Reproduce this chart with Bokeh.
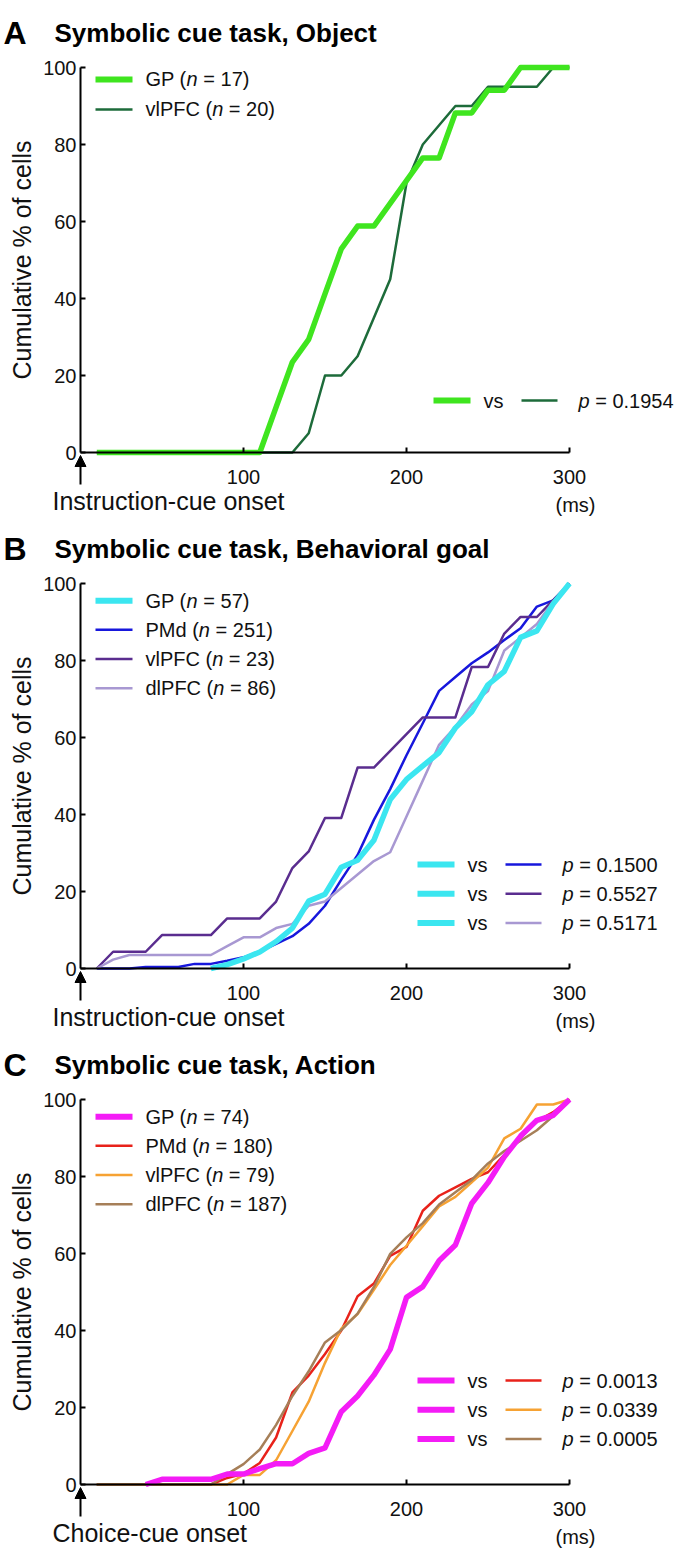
import numpy as np
from bokeh.plotting import figure
from bokeh.models import Range1d, FixedTicker, Label, Arrow, NormalHead
from bokeh.layouts import column
from bokeh.embed import file_html
from bokeh.resources import INLINE

# ---------------- data ----------------
time_ms = [10, 20, 30, 40, 50, 60, 70, 80, 90, 100, 110, 120, 130, 140, 150,
           160, 170, 180, 190, 200, 210, 220, 230, 240, 250, 260, 270, 280, 290, 300]
x_ticks = [100, 200, 300]
y_ticks = [0, 20, 40, 60, 80, 100]

# Panel A: Symbolic cue task, Object
A_gp = [0, 0, 0, 0, 0, 0, 0, 0, 0, 0, 0, 11.8, 23.5, 29.4, 41.2,
        52.9, 58.8, 58.8, 64.7, 70.6, 76.5, 76.5, 88.2, 88.2, 94.1, 94.1, 100, 100, 100, 100]
A_vlpfc = [0, 0, 0, 0, 0, 0, 0, 0, 0, 0, 0, 0, 0, 5, 20,
           20, 25, 35, 45, 70, 80, 85, 90, 90, 95, 95, 95, 95, 100, 100]

# Panel B: Symbolic cue task, Behavioral goal
B_gp = [None, None, None, None, None, None, None, 0, 1.0, 2.5, 4.3, 7.0, 10.5, 17.5, 19.3,
        26.3, 28.1, 33.3, 43.9, 49.1, 52.6, 56.1, 62.5, 66.7, 73.7, 77.2, 86.0, 87.7, 94.7, 100]
B_pmd = [0, 0, 0, 0.4, 0.4, 0.4, 1.2, 1.2, 2.0, 2.9, 4.4, 6.4, 8.4, 11.6, 16.3,
         23.1, 29.5, 38.6, 46.6, 55.4, 63.7, 72.1, 75.7, 79.3, 82.1, 85.3, 88.4, 94.0, 95.6, 100]
B_vlpfc = [0, 4.35, 4.35, 4.35, 8.7, 8.7, 8.7, 8.7, 13.0, 13.0, 13.0, 17.4, 26.1, 30.4, 39.1,
           39.1, 52.2, 52.2, 56.5, 60.9, 65.2, 65.2, 65.2, 78.3, 78.3, 87.0, 91.3, 91.3, 95.7, 100]
B_dlpfc = [0, 2.3, 3.5, 3.5, 3.5, 3.5, 3.5, 3.5, 5.8, 8.1, 8.1, 10.5, 11.6, 16.3, 17.4,
           20.9, 24.4, 27.9, 30.2, 39.5, 48.8, 58.1, 62.8, 68.6, 72.1, 82.6, 86.0, 89.5, 95.3, 100]

# Panel C: Symbolic cue task, Action
C_gp = [None, None, None, 0, 1.35, 1.35, 1.35, 1.35, 2.7, 2.7, 4.1, 5.4, 5.4, 8.1, 9.5,
        18.9, 23.0, 28.4, 35.1, 48.6, 51.4, 58.1, 62.2, 73.0, 78.4, 85.1, 90.5, 94.6, 95.9, 100]
C_pmd = [0, 0, 0, 0, 0, 0, 0, 0, 1.7, 2.8, 5.6, 12.2, 23.9, 28.3, 33.9,
         40.0, 48.9, 52.2, 59.4, 61.7, 71.1, 75.0, 77.2, 79.4, 81.1, 85.6, 90.0, 94.4, 96.7, 100]
C_vlpfc = [0, 0, 0, 0, 0, 0, 0, 0, 0, 2.5, 2.5, 6.3, 13.9, 21.5, 31.6,
           40.5, 44.3, 50.6, 57.0, 62.0, 67.1, 72.2, 74.7, 78.5, 82.3, 89.9, 92.4, 98.7, 98.7, 100]
C_dlpfc = [0, 0, 0, 0, 0, 0, 0, 0, 2.7, 5.3, 9.1, 15.5, 23.0, 29.4, 36.9,
           40.1, 44.4, 51.3, 59.9, 64.2, 67.9, 72.7, 75.9, 79.1, 83.4, 86.6, 89.3, 92.0, 95.7, 100]

A_names = ["GP", "vlPFC"]
A_counts = [17, 20]
A_pvals = ["0.1954"]
B_names = ["GP", "PMd", "vlPFC", "dlPFC"]
B_counts = [57, 251, 23, 86]
B_pvals = ["0.1500", "0.5527", "0.5171"]
C_names = ["GP", "PMd", "vlPFC", "dlPFC"]
C_counts = [74, 180, 79, 187]
C_pvals = ["0.0013", "0.0339", "0.0005"]

# ---------------- layout / style ----------------
FONT = "Liberation Sans"
W, H = 678, 516
LEFT, RIGHT, TOP, BOTTOM = 80, 109, 67, 64     # pixel position of the 0..300 ms / 0..100 % box
PXX = (W - LEFT - RIGHT) / 300.0               # px per ms
PXY = (H - TOP - BOTTOM) / 100.0               # px per %
TXT = "#111111"

AW = {' ': 278, '(': 333, ')': 333, '=': 584, '.': 278, 'G': 778, 'P': 667, 'M': 833,
      'F': 611, 'C': 722, 'd': 556, 'v': 500, 'l': 222, 'n': 556, 'p': 556, 's': 500}


def tw(s, size):
    return sum(AW.get(c, 556) for c in s) / 1000.0 * size


def make_panel(letter, title, xlabel, names, counts, values, colors, widths,
               leg_rows, pv_rows, pv_shift, pvals):
    p = figure(width=W, height=H, output_backend="svg", toolbar_location=None, tools="",
               x_range=Range1d(-LEFT / PXX, 300 + RIGHT / PXX),
               y_range=Range1d(-BOTTOM / PXY, 100 + TOP / PXY),
               min_border=0, min_border_left=0, min_border_right=0,
               min_border_top=0, min_border_bottom=0)
    p.outline_line_color = None
    p.grid.visible = False
    p.background_fill_color = "white"
    p.border_fill_color = "white"

    p.xaxis.ticker = FixedTicker(ticks=x_ticks)
    p.yaxis.ticker = FixedTicker(ticks=y_ticks)
    p.xaxis.bounds = (0, 300)
    p.yaxis.bounds = (0, 100)
    p.xaxis.fixed_location = 0
    p.yaxis.fixed_location = 0
    for ax in (p.xaxis[0], p.yaxis[0]):
        ax.axis_line_width = 2
        ax.axis_line_color = "black"
        ax.major_tick_line_width = 2
        ax.major_tick_line_color = "black"
        ax.major_tick_in = 5
        ax.major_tick_out = 0
        ax.minor_tick_line_color = None
        ax.major_label_text_font = FONT
        ax.major_label_text_font_size = "20px"
        ax.major_label_text_color = TXT
    p.xaxis.major_label_standoff = 17
    p.yaxis.major_label_standoff = 4
    p.yaxis.axis_label = "Cumulative % of cells"
    p.yaxis.axis_label_text_font = FONT
    p.yaxis.axis_label_text_font_size = "25px"
    p.yaxis.axis_label_text_font_style = "normal"
    p.yaxis.axis_label_text_color = TXT
    p.yaxis.axis_label_standoff = 4

    # curves: non-GP first, GP on top
    order = list(range(1, len(names))) + [0]
    for i in order:
        y = np.array(values[i], dtype=float)
        p.line(time_ms, y, line_color=colors[i], line_width=widths[i], line_join="round")

    # top-left legend
    fs = 20
    for i, name in enumerate(names):
        yy = leg_rows[i]
        p.segment(x0=[15 / PXX], y0=[yy], x1=[52 / PXX], y1=[yy],
                  line_color=colors[i], line_width=widths[i] + (0.5 if i == 0 else 0))
        t1 = name + " ("
        base = 65
        p.add_layout(Label(x=0, y=yy, x_offset=base, text=t1, text_font=FONT,
                           text_font_size=f"{fs}px", text_color=TXT, text_baseline="middle"))
        off_n = base + tw(t1, fs)
        p.add_layout(Label(x=0, y=yy, x_offset=off_n, text="n", text_font=FONT,
                           text_font_style="italic", text_font_size=f"{fs}px",
                           text_color=TXT, text_baseline="middle"))
        off_r = off_n + tw("n ", fs)
        p.add_layout(Label(x=0, y=yy, x_offset=off_r, text=f"= {counts[i]})", text_font=FONT,
                           text_font_size=f"{fs}px", text_color=TXT, text_baseline="middle"))

    # comparison legend (bottom right)
    for k, pv in enumerate(pvals):
        yy = pv_rows[k]
        other = k + 1
        s = pv_shift
        p.segment(x0=[(337 + s) / PXX], y0=[yy], x1=[(374 + s) / PXX], y1=[yy],
                  line_color=colors[0], line_width=widths[0] + 0.5)
        p.add_layout(Label(x=0, y=yy, x_offset=387 + s, text="vs", text_font=FONT,
                           text_font_size=f"{fs}px", text_color=TXT, text_baseline="middle"))
        p.segment(x0=[(425 + s) / PXX], y0=[yy], x1=[(461 + s) / PXX], y1=[yy],
                  line_color=colors[other], line_width=widths[other])
        p.add_layout(Label(x=0, y=yy, x_offset=482 + s, text="p", text_font=FONT,
                           text_font_style="italic", text_font_size=f"{fs}px",
                           text_color=TXT, text_baseline="middle"))
        p.add_layout(Label(x=0, y=yy, x_offset=482 + s + tw("p ", fs), text=f"= {pv}",
                           text_font=FONT, text_font_size=f"{fs}px", text_color=TXT,
                           text_baseline="middle"))

    # titles
    ty = 100 + 35 / PXY
    p.add_layout(Label(x=0, y=ty, x_offset=-77, text=letter, text_font=FONT,
                       text_font_style="bold", text_font_size="32px", text_color="black",
                       text_baseline="middle"))
    p.add_layout(Label(x=0, y=ty, x_offset=-26, text=title, text_font=FONT,
                       text_font_style="bold", text_font_size="26px", text_color="black",
                       text_baseline="middle"))

    # x label, arrow, unit
    p.add_layout(Label(x=0, y=-48 / PXY, x_offset=-28, text=xlabel, text_font=FONT,
                       text_font_size="25px", text_color=TXT, text_baseline="middle"))
    p.add_layout(Label(x=300, y=-52 / PXY, x_offset=6, text="(ms)", text_font=FONT,
                       text_font_size="20px", text_color=TXT, text_baseline="middle",
                       text_align="center"))
    p.add_layout(Arrow(end=NormalHead(size=11, fill_color="black", line_color="black", line_width=1),
                       x_start=0, y_start=-32 / PXY, x_end=0, y_end=-3 / PXY,
                       line_color="black", line_width=2))
    return p


pA = make_panel("A", "Symbolic cue task, Object", "Instruction-cue onset",
                A_names, A_counts, [A_gp, A_vlpfc],
                ["#3fe51f", "#1d6b3a"], [5.5, 2.5],
                [96.9, 89.1], [13.5], 16, A_pvals)
pB = make_panel("B", "Symbolic cue task, Behavioral goal", "Instruction-cue onset",
                B_names, B_counts, [B_gp, B_pmd, B_vlpfc, B_dlpfc],
                ["#3be6f0", "#1717dc", "#5a2d8f", "#a898d2"], [5.5, 2.5, 2.5, 2.5],
                [95.5, 88.0, 80.4, 72.8], [27.0, 19.4, 11.8], 0, B_pvals)
pC = make_panel("C", "Symbolic cue task, Action", "Choice-cue onset",
                C_names, C_counts, [C_gp, C_pmd, C_vlpfc, C_dlpfc],
                ["#f41cf6", "#e8221a", "#f6a233", "#a67f58"], [5.5, 2.5, 2.5, 2.5],
                [95.5, 88.0, 80.4, 72.8], [27.0, 19.4, 11.8], 0, C_pvals)

layout = column(pA, pB, pC)
open("out.html", "w").write(file_html(layout, INLINE))
